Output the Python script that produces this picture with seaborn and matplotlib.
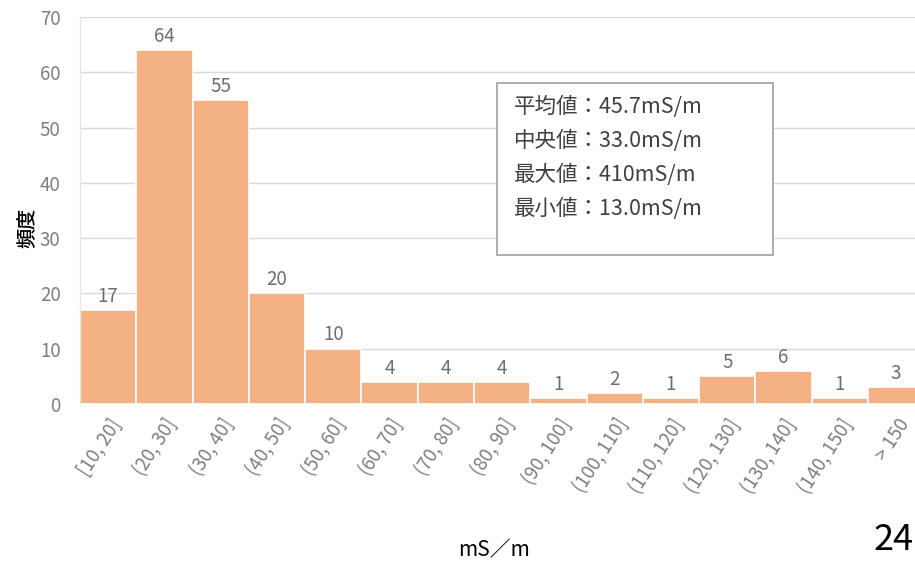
import matplotlib
matplotlib.use("Agg")
import matplotlib.pyplot as plt
from matplotlib.patches import Rectangle
import seaborn as sns
import pandas as pd

categories = ["[10, 20]", "(20, 30]", "(30, 40]", "(40, 50]", "(50, 60]",
              "(60, 70]", "(70, 80]", "(80, 90]", "(90, 100]", "(100, 110]",
              "(110, 120]", "(120, 130]", "(130, 140]", "(140, 150]", "> 150"]
counts = [17, 64, 55, 20, 10, 4, 4, 4, 1, 2, 1, 5, 6, 1, 3]
stats_lines = ["平均値：45.7mS/m", "中央値：33.0mS/m",
               "最大値：410mS/m", "最小値：13.0mS/m"]
y_ticks = [0, 10, 20, 30, 40, 50, 60, 70]

sns.set_theme(style="white")
plt.rcParams["font.family"] = ["Noto Sans CJK JP", "DejaVu Sans"]

df = pd.DataFrame({"bin": categories, "count": counts})

W, H = 915, 565
fig = plt.figure(figsize=(W / 100, H / 100), dpi=100)
ax = fig.add_axes([80 / W, 1 - 404 / H, 1 - 80 / W + 0.004, 387 / H])

bar_color = "#F4B183"
sns.barplot(data=df, x="bin", y="count", color=bar_color, width=1.0,
            edgecolor="white", linewidth=1.2, saturation=1, ax=ax, zorder=2)

ax.set_ylim(0, 70)
ax.set_xlim(-0.5, 14.4)
ax.set_yticks(y_ticks)
ax.yaxis.grid(True, color="#D9D9D9", linewidth=1.0, zorder=0)
ax.set_axisbelow(True)
for side in ["top", "right", "bottom"]:
    ax.spines[side].set_visible(False)
ax.spines["left"].set_color("#E6E6E6")
ax.spines["left"].set_linewidth(1.0)

ax.tick_params(axis="y", length=0, labelsize=13.5, labelcolor="#7F7F7F", pad=14)
ax.tick_params(axis="x", length=0, labelsize=13.5, labelcolor="#7F7F7F", pad=8)
plt.setp(ax.get_xticklabels(), rotation=57, ha="right", rotation_mode="anchor")

for i, v in enumerate(counts):
    ax.text(i, v + 0.6, str(v), ha="center", va="bottom",
            fontsize=13.5, color="#6E6E6E")

ax.set_xlabel("")
ax.set_ylabel("")
fig.text(28 / W, 1 - 228 / H, "頻度", rotation=90, ha="center", va="center",
         fontsize=14.5, color="black", fontweight="medium")
fig.text(494 / W, 1 - 550 / H, "mS／m", ha="center", va="center",
         fontsize=15, color="black")
fig.text(874 / W, 1 - 540 / H, "24", ha="left", va="center",
         fontsize=26, color="black")

# summary statistics box
fig.patches.append(Rectangle((497 / W, 1 - 255 / H), 276 / W, 172 / H,
                             transform=fig.transFigure, facecolor="white",
                             edgecolor="#A6A6A6", linewidth=1.3, zorder=5))
for k, line in enumerate(stats_lines):
    fig.text(514 / W, 1 - (107 + 34 * k) / H, line, ha="left", va="center",
             fontsize=15.5, color="#404040", zorder=6)

fig.savefig("out.png", dpi=100)
